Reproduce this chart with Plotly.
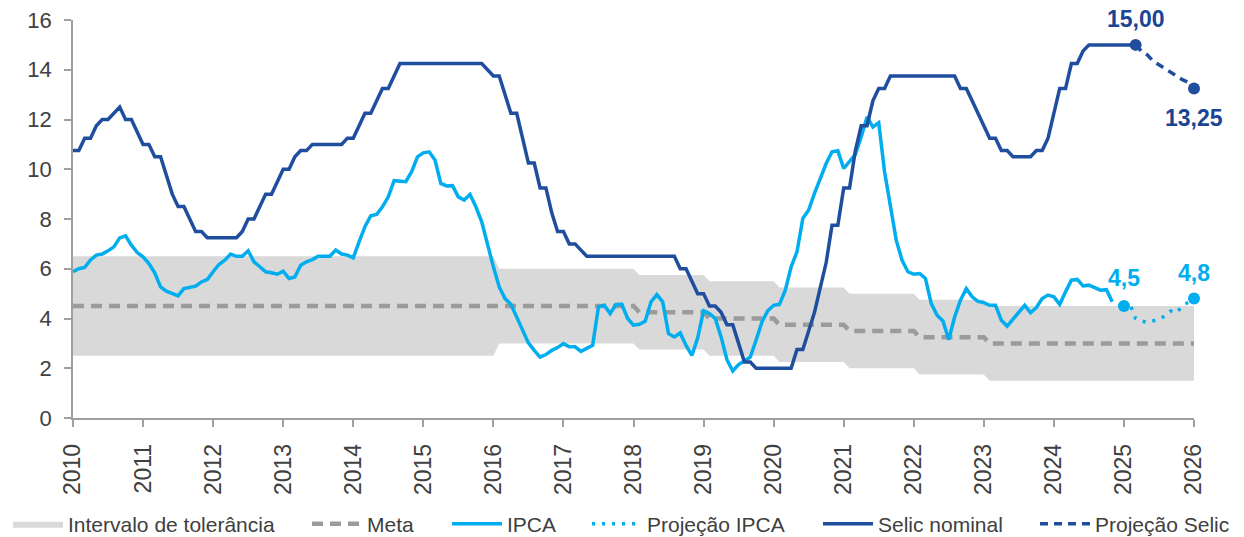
import plotly.graph_objects as go

START_YEAR = 2010

# Selic nominal, monthly from Jan 2010 (month index 0)
selic = [
    10.75, 10.75, 11.25, 11.25, 11.75, 12.0, 12.0, 12.25, 12.5, 12.0,
    12.0, 11.5, 11.0, 11.0, 10.5, 10.5, 9.75, 9.0, 8.5, 8.5,
    8.0, 7.5, 7.5, 7.25, 7.25, 7.25, 7.25, 7.25, 7.25, 7.5,
    8.0, 8.0, 8.5, 9.0, 9.0, 9.5, 10.0, 10.0, 10.5, 10.75,
    10.75, 11.0, 11.0, 11.0, 11.0, 11.0, 11.0, 11.25, 11.25, 11.75,
    12.25, 12.25, 12.75, 13.25, 13.25, 13.75, 14.25, 14.25, 14.25, 14.25,
    14.25, 14.25, 14.25, 14.25, 14.25, 14.25, 14.25, 14.25, 14.25, 14.25,
    14.25, 14.0, 13.75, 13.75, 13.0, 12.25, 12.25, 11.25, 10.25, 10.25,
    9.25, 9.25, 8.25, 7.5, 7.5, 7.0, 7.0, 6.75, 6.5, 6.5,
    6.5, 6.5, 6.5, 6.5, 6.5, 6.5, 6.5, 6.5, 6.5, 6.5,
    6.5, 6.5, 6.5, 6.5, 6.0, 6.0, 5.5, 5.0, 5.0, 4.5,
    4.5, 4.25, 3.75, 3.75, 3.0, 2.25, 2.25, 2.0, 2.0, 2.0,
    2.0, 2.0, 2.0, 2.0, 2.75, 2.75, 3.5, 4.25, 5.25, 6.25,
    7.75, 7.75, 9.25, 9.25, 10.75, 11.75, 11.75, 12.75, 13.25, 13.25,
    13.75, 13.75, 13.75, 13.75, 13.75, 13.75, 13.75, 13.75, 13.75, 13.75,
    13.75, 13.75, 13.25, 13.25, 12.75, 12.25, 11.75, 11.25, 11.25, 10.75,
    10.75, 10.5, 10.5, 10.5, 10.5, 10.75, 10.75, 11.25, 12.25, 13.25,
    13.25, 14.25, 14.25, 14.75, 15.0, 15.0, 15.0, 15.0, 15.0, 15.0,
    15.0, 15.0, 15.0,
]

# Selic projection, monthly from month index 182
selic_proj_start = 182
selic_proj = [15.0, 14.75, 14.6, 14.35, 14.2, 14.05, 13.9, 13.75, 13.6, 13.5, 13.25]

# IPCA (12m), monthly from Jan 2010
ipca = [
    5.88, 6.0, 6.05, 6.35, 6.55, 6.59, 6.72, 6.88, 7.24, 7.32,
    6.95, 6.65, 6.48, 6.21, 5.84, 5.27, 5.10, 5.0, 4.91, 5.2,
    5.25, 5.3, 5.47, 5.57, 5.88, 6.17, 6.34, 6.59, 6.5, 6.5,
    6.72, 6.28, 6.08, 5.88, 5.84, 5.78, 5.9, 5.61, 5.67, 6.14,
    6.28, 6.37, 6.5, 6.5, 6.5, 6.75, 6.59, 6.55, 6.44, 7.08,
    7.69, 8.13, 8.18, 8.49, 8.89, 9.54, 9.52, 9.5, 9.9, 10.5,
    10.66, 10.7, 10.37, 9.43, 9.33, 9.34, 8.89, 8.76, 8.99, 8.49,
    7.89, 6.95, 6.08, 5.27, 4.8, 4.57, 4.06, 3.6, 3.02, 2.72,
    2.45, 2.55, 2.72, 2.83, 2.99, 2.86, 2.86, 2.68, 2.79, 2.92,
    4.47, 4.53, 4.2, 4.56, 4.57, 4.0, 3.73, 3.77, 3.89, 4.67,
    4.96, 4.67, 3.39, 3.26, 3.42, 2.92, 2.52, 3.22, 4.31, 4.2,
    4.0, 3.26, 2.35, 1.89, 2.15, 2.32, 2.45, 3.13, 3.86, 4.31,
    4.53, 4.57, 5.14, 6.08, 6.68, 8.02, 8.36, 9.03, 9.63, 10.23,
    10.7, 10.74, 10.03, 10.3, 10.6, 11.3, 12.1, 11.7, 11.87, 9.9,
    8.49, 7.15, 6.34, 5.88, 5.78, 5.81, 5.61, 4.6, 4.13, 3.9,
    3.15, 4.06, 4.74, 5.2, 4.87, 4.69, 4.64, 4.53, 4.53, 3.93,
    3.69, 3.96, 4.27, 4.53, 4.23, 4.44, 4.8, 4.94, 4.87, 4.57,
    5.07, 5.54, 5.57, 5.31, 5.34, 5.24, 5.14, 5.16, 4.67,
]

# IPCA projection, monthly from month index 180
ipca_proj_start = 180
ipca_proj = [4.5, 4.6, 4.0, 3.9, 3.84, 3.9, 3.97, 4.1, 4.3, 4.23, 4.5, 4.65, 4.8]

# Inflation target (breakpoints: month index, value)
meta_months = [0, 96, 97, 108, 109, 120, 121, 132, 133, 144, 145, 156, 157, 192]
meta_vals = [4.5, 4.5, 4.25, 4.25, 4.0, 4.0, 3.75, 3.75, 3.5, 3.5, 3.25, 3.25, 3.0, 3.0]

# Tolerance band (breakpoints)
tol_months = [0, 72, 73, 96, 97, 108, 109, 120, 121, 132, 133, 144, 145, 156, 157, 192]
tol_upper = [6.5, 6.5, 6.0, 6.0, 5.75, 5.75, 5.5, 5.5, 5.25, 5.25, 5.0, 5.0, 4.75, 4.75, 4.5, 4.5]
tol_lower = [2.5, 2.5, 3.0, 3.0, 2.75, 2.75, 2.5, 2.5, 2.25, 2.25, 2.0, 2.0, 1.75, 1.75, 1.5, 1.5]

# End-point labels
selic_label_text = ["15,00", "13,25"]
ipca_label_text = ["4,5", "4,8"]

year_ticks = list(range(2010, 2027, 1))
y_ticks = list(range(0, 17, 2))


def mx(months):
    return [START_YEAR + m / 12 for m in months]


def seq_x(start, n):
    return [START_YEAR + (start + i) / 12 for i in range(n)]


FONT = "Liberation Sans, Arial, sans-serif"
SELIC_C = "#1F4E9F"
SELIC_TXT = "#1A4494"
IPCA_C = "#00AEEF"
META_C = "#9B9B9B"
BAND_C = "#D9D9D9"
TXT_C = "#404040"

fig = go.Figure()

fig.add_trace(go.Scatter(
    x=mx(tol_months), y=tol_lower, mode="lines", line=dict(width=0, color=BAND_C),
    showlegend=False, hoverinfo="skip"))
fig.add_trace(go.Scatter(
    x=mx(tol_months), y=tol_upper, mode="lines", line=dict(width=0, color=BAND_C),
    fill="tonexty", fillcolor=BAND_C, name="Intervalo de tolerância", legend="legend"))

fig.add_trace(go.Scatter(
    x=mx(meta_months), y=meta_vals, mode="lines",
    line=dict(color=META_C, width=4.5, dash="11px,7px"), name="Meta", legend="legend2"))

fig.add_trace(go.Scatter(
    x=seq_x(0, len(ipca)), y=ipca, mode="lines",
    line=dict(color=IPCA_C, width=3.5), name="IPCA", legend="legend3"))

ipca_proj_x = seq_x(ipca_proj_start, len(ipca_proj))
fig.add_trace(go.Scatter(
    x=ipca_proj_x, y=ipca_proj, mode="lines",
    line=dict(color=IPCA_C, width=3.5, dash="3px,7px"), name="Projeção IPCA", legend="legend4"))

fig.add_trace(go.Scatter(
    x=seq_x(0, len(selic)), y=selic, mode="lines",
    line=dict(color=SELIC_C, width=3.5), name="Selic nominal", legend="legend5"))

selic_proj_x = seq_x(selic_proj_start, len(selic_proj))
fig.add_trace(go.Scatter(
    x=selic_proj_x, y=selic_proj, mode="lines",
    line=dict(color=SELIC_C, width=3.5, dash="8px,6px"), name="Projeção Selic", legend="legend6"))

# end-point markers
ipca_end_x = [ipca_proj_x[0], ipca_proj_x[-1]]
ipca_end_y = [ipca_proj[0], ipca_proj[-1]]
fig.add_trace(go.Scatter(
    x=ipca_end_x, y=ipca_end_y, mode="markers", marker=dict(color=IPCA_C, size=12),
    showlegend=False, cliponaxis=False, hoverinfo="skip"))

selic_end_x = [selic_proj_x[0], selic_proj_x[-1]]
selic_end_y = [selic_proj[0], selic_proj[-1]]
fig.add_trace(go.Scatter(
    x=selic_end_x, y=selic_end_y, mode="markers", marker=dict(color=SELIC_C, size=12),
    showlegend=False, cliponaxis=False, hoverinfo="skip"))

label_font = dict(family=FONT, size=23, weight="bold")
annotations = []
for xv, yv, txt, shift in zip(selic_end_x, selic_end_y, selic_label_text, [26, -30]):
    annotations.append(dict(x=xv, y=yv, xref="x", yref="y", text=txt, showarrow=False,
                            yanchor="middle", xanchor="center", yshift=shift,
                            font=dict(label_font, color=SELIC_TXT)))
for xv, yv, txt, shift in zip(ipca_end_x, ipca_end_y, ipca_label_text, [28, 26]):
    annotations.append(dict(x=xv, y=yv, xref="x", yref="y", text=txt, showarrow=False,
                            yanchor="middle", xanchor="center", yshift=shift,
                            font=dict(label_font, color=IPCA_C)))

PLOT_L, PLOT_R, PLOT_T, PLOT_B = 73, 50, 20, 119
W, H = 1244, 537
plot_w = W - PLOT_L - PLOT_R
plot_h = H - PLOT_T - PLOT_B

legend_text_px = [68, 367, 507, 647, 878, 1095]
legend_y = (H - PLOT_B - 524) / plot_h
leg_common = dict(orientation="h", yanchor="middle", y=legend_y, xanchor="left",
                  font=dict(family=FONT, size=21, color=TXT_C), bgcolor="rgba(0,0,0,0)",
                  itemwidth=50)
legends = {}
for i, tx in enumerate(legend_text_px):
    key = "legend" if i == 0 else f"legend{i + 1}"
    legends[key] = dict(leg_common, x=(tx - 60 - PLOT_L) / plot_w)

axis_common = dict(showgrid=False, zeroline=False, showline=True, linecolor="#A0A0A0",
                   linewidth=1.5, ticks="outside", ticklen=7, tickcolor="#A0A0A0",
                   tickwidth=1.5, automargin=False, ticklabelstandoff=8)

fig.update_layout(
    width=W, height=H,
    margin=dict(l=PLOT_L, r=PLOT_R, t=PLOT_T, b=PLOT_B, autoexpand=False),
    plot_bgcolor="white", paper_bgcolor="white",
    font=dict(family=FONT, size=21, color=TXT_C),
    xaxis=dict(axis_common, range=[2010, 2026], tickvals=year_ticks,
               ticktext=[str(y) for y in year_ticks], tickangle=-90,
               tickfont=dict(family=FONT, size=23, color=TXT_C)),
    yaxis=dict(axis_common, range=[0, 16], tickvals=y_ticks,
               tickfont=dict(family=FONT, size=22, color=TXT_C)),
    annotations=annotations,
    **legends,
)

fig.write_html("out.html", config={"displayModeBar": False},
               post_script="document.body.style.margin='0px';")
